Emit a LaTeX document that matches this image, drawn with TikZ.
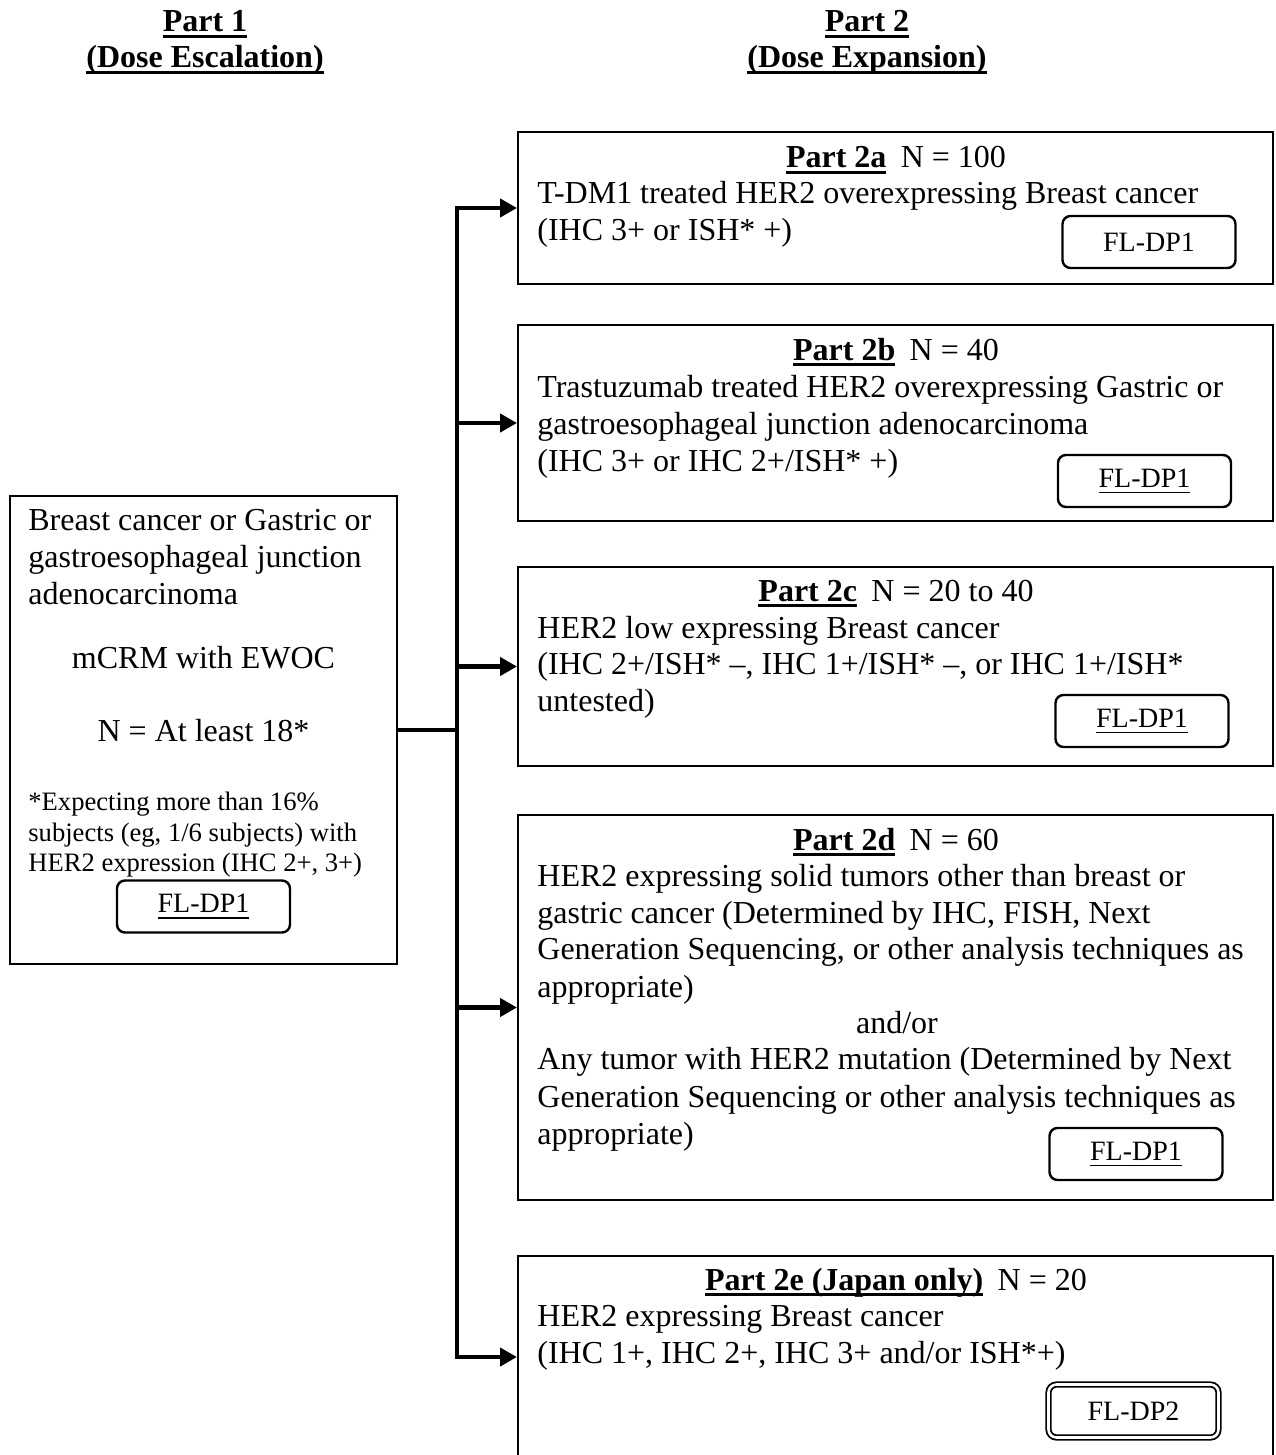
\documentclass[tikz,border=0pt]{standalone}
\usepackage{fontspec}
\setmainfont{Liberation Serif}
\usetikzlibrary{fit,arrows.meta}
\newcommand\myul[2][1.2pt]{\setbox0\hbox{#2}\rlap{\rule[-2.8pt]{\wd0}{#1}}\box0}
\tikzset{
  txt/.style={anchor=base west, inner sep=0pt, yshift=-1pt, font=\fontsize{16}{18.5}\selectfont},
  ctxt/.style={anchor=base, inner sep=0pt, yshift=-1pt, font=\fontsize{16}{18.5}\selectfont},
  stxt/.style={anchor=base west, inner sep=0pt, yshift=-1pt, font=\fontsize{13.3}{15.5}\selectfont},
  ttl/.style={anchor=base, inner sep=0pt, yshift=-1pt, font=\fontsize{16}{18.5}\selectfont\bfseries},
  bigbox/.style={draw, line width=1pt, inner sep=0pt},
  flbox/.style={draw, line width=1.2pt, rounded corners=4pt, minimum width=86.5pt, minimum height=26pt, inner sep=0pt, font=\fontsize{14}{15}\selectfont},
  conn/.style={line width=2.3pt, line join=miter}
}
\begin{document}
\begin{tikzpicture}[x=0.5pt,y=-0.5pt,>={Triangle[length=8.5pt,width=9pt]}]
\useasboundingbox (0,0) rectangle (1275,1455);
% titles
\node[ttl] (t1a) at (205,30) {\myul{Part 1}};
\node[ttl] (t1b) at (205,66) {\myul{(Dose Escalation)}};
\node[ttl] (t2a) at (867,30) {\myul{Part 2}};
\node[ttl] (t2b) at (867,66) {\myul{(Dose Expansion)}};
% boxes
\node[bigbox, fit={(10,496) (397,964)}] (L) {};
\node[bigbox, fit={(518,132) (1273,284)}] (A) {};
\node[bigbox, fit={(518,325) (1273,521)}] (B) {};
\node[bigbox, fit={(518,567) (1273,766)}] (C) {};
\node[bigbox, fit={(518,815) (1273,1200)}] (D) {};
\node[bigbox, fit={(518,1256) (1273,1458)}] (E) {};
% left box text
\node[txt] (l1) at (28,528) {Breast cancer or Gastric or};
\node[txt] (l2) at (28,565) {gastroesophageal junction};
\node[txt] (l3) at (28,602) {adenocarcinoma};
\node[ctxt] (l4) at (203.5,666) {mCRM with EWOC};
\node[ctxt] (l5) at (203.5,739) {N = At least 18*};
\node[stxt] (l6) at (28,808) {*Expecting more than 16\%};
\node[stxt] (l7) at (28,839) {subjects (eg, 1/6 subjects) with};
\node[stxt] (l8) at (28,869) {HER2 expression (IHC 2+, 3+)};
\node[flbox] (fl0) at (203.5,906.5) {\myul[0.6pt]{FL-DP1}};
% box A
\node[ctxt] (ah) at (896,166) {\textbf{\myul{Part 2a}}\hspace{0.45em}N = 100};
\node[txt] (a1) at (537,202) {T-DM1 treated HER2 overexpressing Breast cancer};
\node[txt] (a2) at (537,239) {(IHC 3+ or ISH* +)};
\node[flbox] (fla) at (1149,242) {FL-DP1};
% box B
\node[ctxt] (bh) at (896,358) {\textbf{\myul{Part 2b}}\hspace{0.45em}N = 40};
\node[txt] (b1) at (537,395) {Trastuzumab treated HER2 overexpressing Gastric or};
\node[txt] (b2) at (537,432) {gastroesophageal junction adenocarcinoma};
\node[txt] (b3) at (537,469) {(IHC 3+ or IHC 2+/ISH* +)};
\node[flbox] (flb) at (1144.5,481) {\myul[0.6pt]{FL-DP1}};
% box C
\node[ctxt] (ch) at (896,599) {\textbf{\myul{Part 2c}}\hspace{0.45em}N = 20 to 40};
\node[txt] (c1) at (537,636) {HER2 low expressing Breast cancer};
\node[txt] (c2) at (537,672) {(IHC 2+/ISH* \textendash, IHC 1+/ISH* \textendash, or IHC 1+/ISH*};
\node[txt] (c3) at (537,709) {untested)};
\node[flbox] (flc) at (1142,721) {\myul[0.6pt]{FL-DP1}};
% box D
\node[ctxt] (dh) at (896,848) {\textbf{\myul{Part 2d}}\hspace{0.45em}N = 60};
\node[txt] (d1) at (537,884) {HER2 expressing solid tumors other than breast or};
\node[txt] (d2) at (537,921) {gastric cancer (Determined by IHC, FISH, Next};
\node[txt] (d3) at (537,957) {Generation Sequencing, or other analysis techniques as};
\node[txt] (d4) at (537,995) {appropriate)};
\node[ctxt] (d5) at (897,1031) {and/or};
\node[txt] (d6) at (537,1067) {Any tumor with HER2 mutation (Determined by Next};
\node[txt] (d7) at (537,1105) {Generation Sequencing or other analysis techniques as};
\node[txt] (d8) at (537,1142) {appropriate)};
\node[flbox] (fld) at (1136,1154) {\myul[0.6pt]{FL-DP1}};
% box E
\node[ctxt] (eh) at (896,1288) {\textbf{\myul{Part 2e (Japan only)}}\hspace{0.45em}N = 20};
\node[txt] (e1) at (537,1324) {HER2 expressing Breast cancer};
\node[txt] (e2) at (537,1361) {(IHC 1+, IHC 2+, IHC 3+ and/or ISH*+)};
\node[flbox, double, double distance=1.3pt, line width=0.9pt, minimum width=85pt, minimum height=26.5pt] (fle) at (1133.5,1411) {FL-DP2};
% connectors
\coordinate (S) at (457,0);
\draw[conn] (L.east) -- (L.east -| S);
\draw[conn, <->] (A.west) -- (A.west -| S) -- (E.west -| S) -- (E.west);
\draw[conn, ->] (B.west -| S) -- (B.west);
\draw[conn, ->] (C.west -| S) -- (C.west);
\draw[conn, ->] (D.west -| S) -- (D.west);
\end{tikzpicture}
\end{document}
